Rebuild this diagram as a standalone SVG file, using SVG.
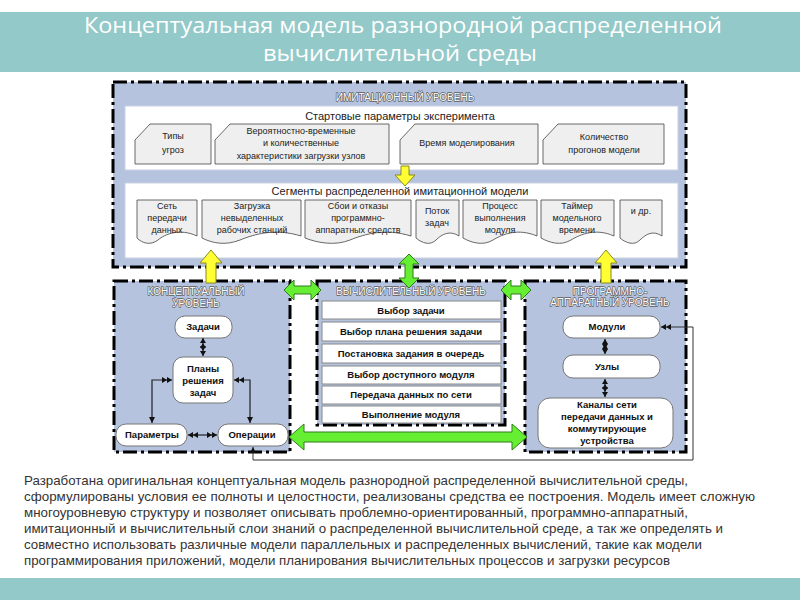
<svg xmlns="http://www.w3.org/2000/svg" width="800" height="600" viewBox="0 0 800 600">
<defs>
<style>
.lvl{fill:#B5C3DE;stroke:#000;stroke-width:3;stroke-dasharray:14 4 3 4}
.wbox{fill:#fff;stroke:#C9D1E3;stroke-width:1}
.card{fill:#EFEFEF;stroke:#444;stroke-width:0.8}
.lbl{font-family:"Liberation Sans",Arial,sans-serif;font-size:10px;fill:#fff;stroke:#5A5A5A;stroke-width:1.3;paint-order:stroke;stroke-linejoin:round;text-anchor:middle}
.t9{font-family:"Liberation Sans",Arial,sans-serif;font-size:9px;fill:#222;text-anchor:middle}
.t11{font-family:"Liberation Sans",Arial,sans-serif;font-size:11px;fill:#222;text-anchor:middle}
.nb{font-family:"Liberation Sans",Arial,sans-serif;font-size:9.5px;font-weight:bold;fill:#111;text-anchor:middle}
.node{fill:#fff;stroke:#777;stroke-width:1}
.row{fill:#fff;stroke:#888;stroke-width:1}
.yel{fill:#FFFF33;stroke:#8A8A20;stroke-width:1}
.grn{fill:#66EE33;stroke:#2E7D1A;stroke-width:1}
.con{fill:none;stroke:#222;stroke-width:1.2}
.para{font-family:"Liberation Sans",Arial,sans-serif;font-size:13.5px;fill:#333}
.title{font-family:"Open Sans","Liberation Sans",sans-serif;font-size:21px;fill:#fff;text-anchor:middle}
</style>
<marker id="dbl" markerUnits="userSpaceOnUse" markerWidth="10" markerHeight="6" refX="10" refY="3" orient="auto-start-reverse">
<path d="M0,0 L5,3 L0,6 Z M5,0 L10,3 L5,6 Z" fill="#111"/>
</marker>
<marker id="sgl" markerUnits="userSpaceOnUse" markerWidth="6" markerHeight="6" refX="6" refY="3" orient="auto-start-reverse">
<path d="M0,0 L6,3 L0,6 Z" fill="#111"/>
</marker>
</defs>
<rect width="800" height="600" fill="#fff"/>
<g id="title">
<rect x="0" y="12" width="800" height="60" fill="#93C9C9"/>
<text class="title" x="403" y="33" textLength="638" lengthAdjust="spacingAndGlyphs">Концептуальная модель разнородной распределенной</text>
<text class="title" x="400" y="61" textLength="274" lengthAdjust="spacingAndGlyphs">вычислительной среды</text>
</g>

<g id="imitation-level">
<rect class="lvl" x="113" y="82" width="573" height="185"/>
<text class="lbl" x="405" y="101">ИМИТАЦИОННЫЙ УРОВЕНЬ</text>
<rect class="wbox" x="125" y="106" width="553" height="64"/>
<text class="t11" x="400" y="120">Стартовые параметры эксперимента</text>
<rect class="wbox" x="125" y="183" width="553" height="75"/>
<text class="t11" x="400" y="195">Сегменты  распределенной имитационной модели</text>
</g>

<g id="card-threats">
<path class="card" d="M150,124 H211 V164 H135 V140 Z"/>
<text class="t9" x="173" y="139">Типы</text><text class="t9" x="173" y="153">угроз</text>
</g>
<g id="card-prob">
<path class="card" d="M230,124 H389 V164 H215 V140 Z"/>
<text class="t9" x="301" y="134">Вероятностно-временные</text>
<text class="t9" x="301" y="146">и количественные</text>
<text class="t9" x="301" y="159">характеристики загрузки узлов</text>
</g>
<g id="card-time">
<path class="card" d="M415,124 H538 V164 H400 V140 Z"/>
<text class="t9" x="467" y="146">Время моделирования</text>
</g>
<g id="card-runs">
<path class="card" d="M558,124 H664 V164 H543 V140 Z"/>
<text class="t9" x="604" y="140">Количество</text>
<text class="t9" x="604" y="153">прогонов модели</text>
</g>

<g id="doc-net">
<path class="card" d="M137,200 H197 V236 C180,228 165,234 158,240 C150,246 142,243 137,238 Z"/>
<text class="t9" x="167" y="209">Сеть</text><text class="t9" x="167" y="221">передачи</text><text class="t9" x="167" y="233">данных</text>
</g>
<g id="doc-load">
<path class="card" d="M202,200 H301 V236 C275,228 255,234 240,240 C225,246 212,243 202,238 Z"/>
<text class="t9" x="252" y="209">Загрузка</text><text class="t9" x="252" y="221">невыделенных</text><text class="t9" x="252" y="233">рабочих станций</text>
</g>
<g id="doc-fail">
<path class="card" d="M305,200 H411 V236 C385,228 365,234 350,240 C335,246 318,243 305,238 Z"/>
<text class="t9" x="358" y="209">Сбои и отказы</text><text class="t9" x="358" y="221">программно-</text><text class="t9" x="358" y="233">аппаратных средств</text>
</g>
<g id="doc-flow">
<path class="card" d="M416,200 H459 V236 C450,230 442,234 436,240 C430,246 422,243 416,238 Z"/>
<text class="t9" x="437" y="214">Поток</text><text class="t9" x="437" y="226">задач</text>
</g>
<g id="doc-proc">
<path class="card" d="M463,200 H537 V236 C518,228 503,234 493,240 C483,246 472,243 463,238 Z"/>
<text class="t9" x="500" y="209">Процесс</text><text class="t9" x="500" y="221">выполнения</text><text class="t9" x="500" y="233">модуля</text>
</g>
<g id="doc-timer">
<path class="card" d="M541,200 H614 V236 C596,228 581,234 571,240 C561,246 550,243 541,238 Z"/>
<text class="t9" x="577" y="209">Таймер</text><text class="t9" x="577" y="221">модельного</text><text class="t9" x="577" y="233">времени</text>
</g>
<g id="doc-etc">
<path class="card" d="M620,200 H662 V236 C653,230 646,234 640,240 C634,246 626,243 620,238 Z"/>
<text class="t9" x="641" y="214">и др.</text>
</g>

<g id="conceptual-level">
<rect class="lvl" x="114" y="281" width="176" height="171"/>
<text class="lbl" x="196" y="295">КОНЦЕПТУАЛЬНЫЙ</text>
<text class="lbl" x="196" y="307">УРОВЕНЬ</text>
</g>
<g id="n-tasks"><rect class="node" x="175" y="316" width="57" height="22" rx="10"/><text class="nb" x="203" y="330">Задачи</text></g>
<g id="n-plans"><rect class="node" x="173" y="357" width="60" height="46" rx="10"/>
<text class="nb" x="203" y="372">Планы</text><text class="nb" x="203" y="384">решения</text><text class="nb" x="203" y="396">задач</text></g>
<g id="n-params"><rect class="node" x="116" y="424" width="71" height="22" rx="10"/><text class="nb" x="152" y="438">Параметры</text></g>
<g id="n-ops"><rect class="node" x="218" y="424" width="70" height="22" rx="10"/><text class="nb" x="252" y="438">Операции</text></g>

<g id="computational-level">
<rect class="lvl" x="317" y="281" width="188" height="144"/>
<text class="lbl" x="411" y="295" font-size="10.5">ВЫЧИСЛИТЕЛЬНЫЙ УРОВЕНЬ</text>
</g>
<g id="r1"><rect class="row" x="322" y="301" width="179" height="18"/><text class="nb" x="411" y="314">Выбор задачи</text></g>
<g id="r2"><rect class="row" x="322" y="322" width="179" height="19"/><text class="nb" x="411" y="335">Выбор плана решения задачи</text></g>
<g id="r3"><rect class="row" x="322" y="344" width="179" height="19"/><text class="nb" x="411" y="357">Постановка задания в очередь</text></g>
<g id="r4"><rect class="row" x="322" y="366" width="179" height="18"/><text class="nb" x="411" y="378">Выбор доступного модуля</text></g>
<g id="r5"><rect class="row" x="322" y="386" width="179" height="18"/><text class="nb" x="411" y="398">Передача данных по сети</text></g>
<g id="r6"><rect class="row" x="322" y="406" width="179" height="17"/><text class="nb" x="411" y="418">Выполнение модуля</text></g>

<g id="hardware-level">
<rect class="lvl" x="525" y="281" width="161" height="171"/>
<text class="lbl" x="610" y="295">ПРОГРАММНО-</text>
<text class="lbl" x="610" y="306">АППАРАТНЫЙ УРОВЕНЬ</text>
</g>
<g id="n-modules"><rect class="node" x="563" y="316" width="97" height="22" rx="10"/><text class="nb" x="607" y="330">Модули</text></g>
<g id="n-nodes"><rect class="node" x="563" y="355" width="97" height="23" rx="10"/><text class="nb" x="607" y="370">Узлы</text></g>
<g id="n-channels"><rect class="node" x="538" y="398" width="135" height="50" rx="12"/>
<text class="nb" x="607" y="408">Каналы сети</text><text class="nb" x="607" y="420">передачи данных и</text><text class="nb" x="607" y="432">коммутирующие</text><text class="nb" x="607" y="444">устройства</text></g>

<g id="connectors">
<polygon class="yel" points="405,186 415,175 409,175 409,166 401,166 401,175 395,175"/>
<polygon class="yel" points="211,250 222,263 216,263 216,283 206,283 206,263 200,263"/>
<polygon class="yel" points="606,250 617,263 611,263 611,283 601,283 601,263 595,263"/>
<polygon class="grn" points="409,254 419,264 413,264 413,278 419,278 409,288 399,278 405,278 405,264 399,264"/>
<polygon class="grn" points="284,290 294,280 294,286 311,286 311,280 321,290 311,300 311,294 294,294 294,300"/>
<polygon class="grn" points="501,290 511,280 511,286 521,286 521,280 531,290 521,300 521,294 511,294 511,300"/>
<polygon class="grn" points="289,437 304,424 304,432 512,432 512,424 527,437 512,450 512,442 304,442 304,450"/>
<path class="con" d="M203,338 V356" marker-start="url(#dbl)" marker-end="url(#dbl)"/>
<path class="con" d="M172,380 H152 V423" marker-start="url(#dbl)" marker-end="url(#sgl)"/>
<path class="con" d="M234,380 H250 V423" marker-start="url(#dbl)" marker-end="url(#sgl)"/>
<path class="con" d="M188,435 H217" marker-start="url(#dbl)" marker-end="url(#dbl)"/>
<path class="con" d="M605,339 V354" marker-start="url(#dbl)" marker-end="url(#dbl)"/>
<path class="con" d="M605,379 V397" marker-start="url(#dbl)" marker-end="url(#dbl)"/>
<path fill="none" stroke="#333" stroke-width="1" d="M253,447 V460 H693 V327 H661" marker-start="url(#sgl)" marker-end="url(#dbl)"/>
</g>

<g id="description">
<text class="para" x="24" y="485" textLength="664" lengthAdjust="spacingAndGlyphs">Разработана оригинальная концептуальная модель разнородной распределенной вычислительной среды,</text>
<text class="para" x="24" y="501" textLength="731" lengthAdjust="spacingAndGlyphs">сформулированы условия ее полноты и целостности, реализованы средства ее построения.  Модель имеет сложную</text>
<text class="para" x="24" y="517" textLength="664" lengthAdjust="spacingAndGlyphs">многоуровневую структуру и позволяет описывать проблемно-ориентированный, программно-аппаратный,</text>
<text class="para" x="24" y="533" textLength="699" lengthAdjust="spacingAndGlyphs">имитационный и вычислительный слои знаний о распределенной вычислительной среде, а так же определять и</text>
<text class="para" x="24" y="549" textLength="678" lengthAdjust="spacingAndGlyphs">совместно использовать различные модели параллельных и распределенных вычислений, такие как модели</text>
<text class="para" x="24" y="565" textLength="646" lengthAdjust="spacingAndGlyphs">программирования приложений, модели планирования вычислительных процессов и загрузки ресурсов</text>
</g>
<rect x="0" y="578" width="800" height="22" fill="#93C9C9"/>
</svg>
